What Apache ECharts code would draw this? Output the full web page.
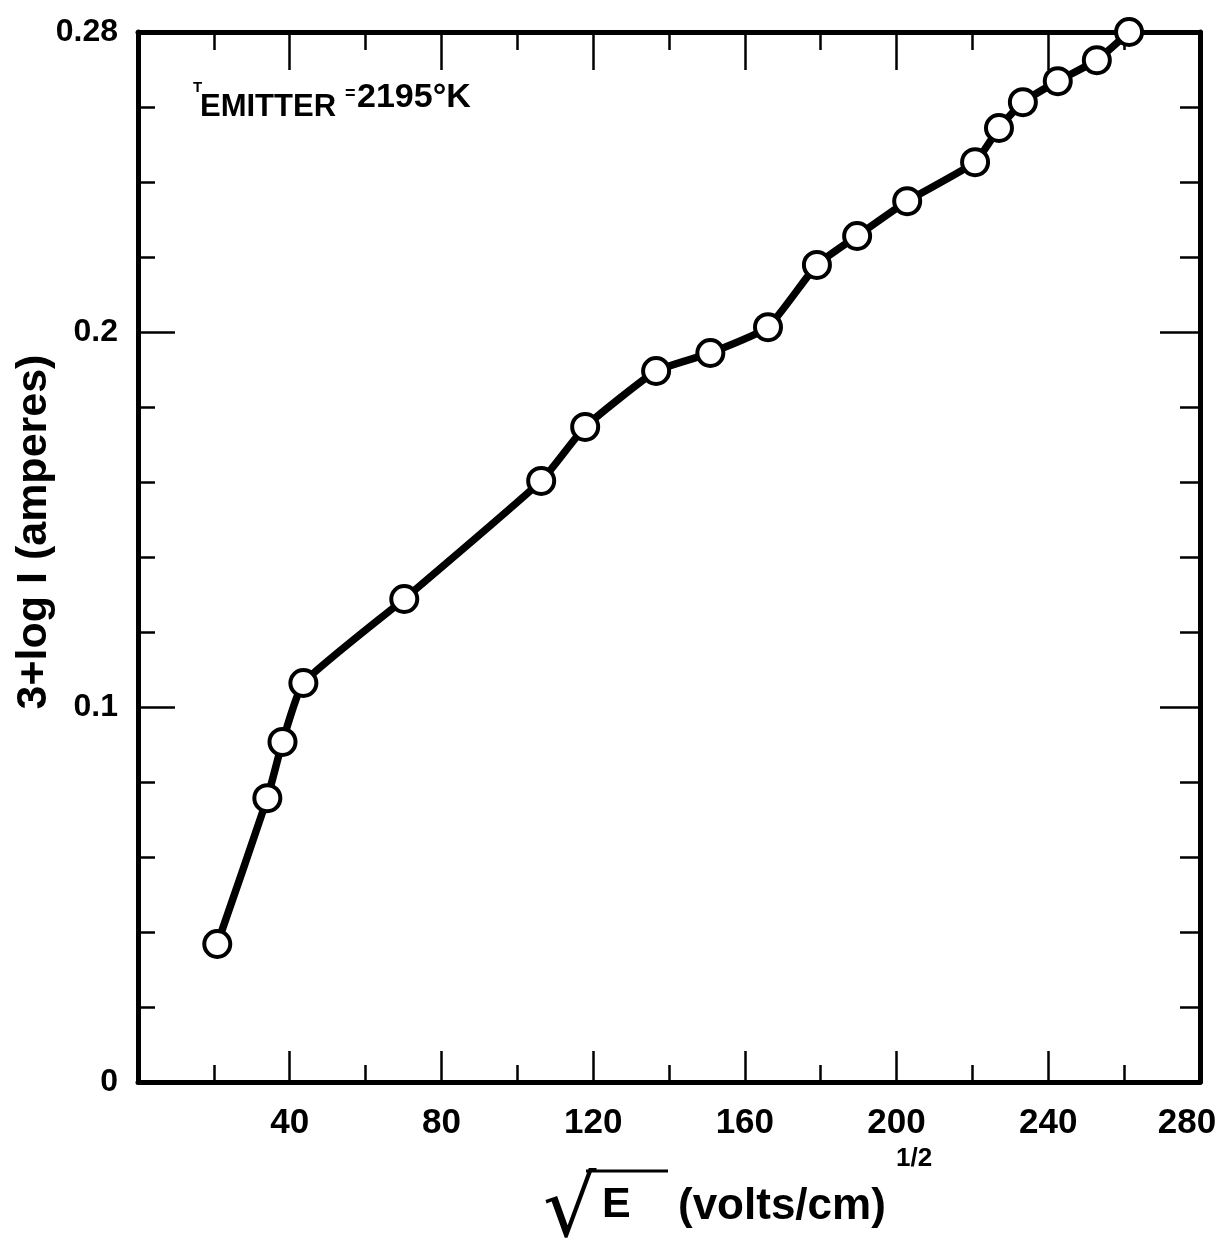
<!DOCTYPE html>
<html><head><meta charset="utf-8">
<script src="https://cdn.jsdelivr.net/npm/echarts@6/dist/echarts.min.js"></script>
<style>html,body{margin:0;padding:0;background:#fff}#c{width:1230px;height:1243px}</style>
</head><body><div id="c"></div>
<script>
// sqrt(E) in (volts/cm)^1/2
const sqrtE = [20.9, 34.1, 38.1, 43.6, 70.2, 106.3, 117.9, 136.6, 150.9, 166.1, 179.0, 189.6, 202.8, 220.7, 227.0, 233.3, 242.5, 252.8, 261.3];
// 3 + log I (amperes)
const logI  = [0.0368, 0.0757, 0.0907, 0.1064, 0.1288, 0.1603, 0.1747, 0.1896, 0.1944, 0.2013, 0.2179, 0.2256, 0.2349, 0.2453, 0.2544, 0.2613, 0.2669, 0.2725, 0.2800];
const xTickLabels = [40, 80, 120, 160, 200, 240, 280];
const yTickLabels = [0, 0.1, 0.2, 0.28];

const X_MIN = 0, X_MAX = 280, Y_MIN = 0, Y_MAX = 0.28;
const FONT = '"Liberation Sans", "DejaVu Sans", sans-serif';

const chart = echarts.init(document.getElementById('c'), null, {renderer: 'canvas'});

function xAxisCfg(pos, interval, tickLen, withLine, withLabels) {
  return {
    type: 'value', position: pos, min: X_MIN, max: X_MAX, interval: interval,
    axisLine: {show: withLine, onZero: false, lineStyle: {color: '#000', width: 5}},
    axisTick: {show: true, inside: true, length: tickLen, lineStyle: {color: '#000', width: 2.5}},
    splitLine: {show: false},
    axisLabel: withLabels ? {
      show: true, margin: 24, color: '#000', fontFamily: FONT, fontWeight: 'bold', fontSize: 35,
      formatter: v => {
        const r = Math.round(v);
        if (!xTickLabels.includes(r)) return '';
        return r === X_MAX ? '{end|' + r + '}' : String(r);
      },
      rich: {end: {color: '#000', fontFamily: FONT, fontWeight: 'bold', fontSize: 35, padding: [0, 26, 0, 0]}}
    } : {show: false}
  };
}
function yAxisCfg(pos, interval, tickLen, withLine, withLabels, name) {
  const c = {
    type: 'value', position: pos, min: Y_MIN, max: Y_MAX, interval: interval,
    axisLine: {show: withLine, onZero: false, lineStyle: {color: '#000', width: 5}},
    axisTick: {show: true, inside: true, length: tickLen, lineStyle: {color: '#000', width: 2.5}},
    splitLine: {show: false},
    axisLabel: withLabels ? {
      show: true, margin: 20, color: '#000', fontFamily: FONT, fontWeight: 'bold', fontSize: 32,
      formatter: v => { const f = yTickLabels.find(t => Math.abs(t - v) < 1e-6); return f === undefined ? '' : String(f); }
    } : {show: false}
  };
  if (name) {
    c.name = name; c.nameLocation = 'middle'; c.nameRotate = 90; c.nameGap = 82;
    c.nameMoveOverlap = false;
    c.nameTextStyle = {color: '#000', fontFamily: FONT, fontWeight: 'bold', fontSize: 43, padding: [0, 0, 0, 50]};
  }
  return c;
}

const option = {
  backgroundColor: '#fff',
  animation: false,
  grid: {left: 138, right: 30, top: 32, bottom: 161, containLabel: false, outerBoundsMode: 'none'},
  xAxis: [
    xAxisCfg('bottom', 20, 17, true, true),
    xAxisCfg('bottom', 40, 31, false, false),
    xAxisCfg('top', 20, 18, true, false),
    xAxisCfg('top', 40, 38, false, false)
  ],
  yAxis: [
    yAxisCfg('left', 0.02, 17, true, true, '3+log I (amperes)'),
    yAxisCfg('left', 0.1, 37, false, false),
    yAxisCfg('right', 0.02, 20, true, false),
    yAxisCfg('right', 0.1, 40, false, false)
  ],
  series: [{
    type: 'line', xAxisIndex: 0, yAxisIndex: 0,
    data: sqrtE.map((x, i) => [x, logI[i]]),
    smooth: 0.15, clip: false, z: 10,
    lineStyle: {color: '#000', width: 7.5},
    symbol: 'circle', symbolSize: 26,
    itemStyle: {color: '#fff', borderColor: '#000', borderWidth: 4}
  }],
  graphic: [
    // annotation T_EMITTER = 2195°K
    {type: 'text', left: 193, top: 80, style: {text: 'T', font: 'bold 15px ' + FONT, fill: '#000'}},
    {type: 'text', left: 200, top: 92, style: {text: 'EMITTER', font: 'bold 31px ' + FONT, fill: '#000'}},
    {type: 'text', left: 345, top: 85, style: {text: '=', font: 'bold 18px ' + FONT, fill: '#000'}},
    {type: 'text', left: 357, top: 81, style: {text: '2195°K', font: 'bold 34px ' + FONT, fill: '#000'}},
    // x axis title
    {type: 'text', left: 543, top: 1172, style: {text: '√', font: '84px "DejaVu Sans", sans-serif', fill: '#000'}},
    {type: 'line', shape: {x1: 586, y1: 1171, x2: 668, y2: 1171}, style: {stroke: '#000', lineWidth: 3}},
    {type: 'text', left: 602, top: 1184, style: {text: 'E', font: 'bold 43px ' + FONT, fill: '#000'}},
    {type: 'text', left: 678, top: 1185, style: {text: '(volts/cm)', font: 'bold 44px ' + FONT, fill: '#000'}},
    {type: 'text', left: 896, top: 1146, style: {text: '1/2', font: 'bold 26px ' + FONT, fill: '#000'}}
  ]
};
chart.setOption(option);
</script>
</body></html>
